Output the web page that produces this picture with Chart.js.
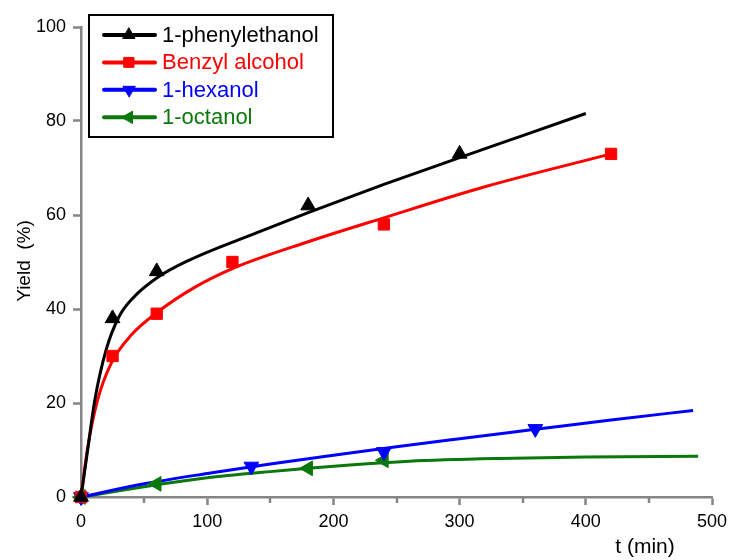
<!DOCTYPE html>
<html>
<head>
<meta charset="utf-8">
<script src="https://cdn.jsdelivr.net/npm/chart.js@4/dist/chart.umd.min.js"></script>
<style>
	html, body { margin: 0; padding: 0; background: #fff; }
	#wrap { width: 734px; height: 560px; }
</style>
</head>
<body>
<div id="wrap"><canvas id="yieldChart" width="734" height="560"></canvas></div>
<script>
// measured points
const phenylT = [0, 25, 60, 180, 300];
const phenylY = [0, 38, 48, 62, 73];
const benzylT = [0, 25, 60, 120, 240, 420];
const benzylY = [0, 30, 39, 50, 58, 73];
const hexanolT = [0, 135, 240, 360];
const hexanolY = [0, 6.5, 9.6, 14.5];
const octanolT = [0, 60, 180, 240];
const octanolY = [0, 2.8, 6.1, 7.8];

// fitted curves
const phenylFitT = [0, 5, 11, 20, 30, 41, 60, 85, 139, 180, 240, 300, 350, 400];
const phenylFitY = [0, 9.5, 20.7, 31.4, 38.3, 42.3, 46.6, 50.3, 56.2, 60.5, 66.5, 72.2, 76.9, 81.6];
const benzylFitT = [0, 5, 13, 24, 40, 60, 90, 120, 180, 240, 320, 420];
const benzylFitY = [0, 10, 20.5, 28.5, 34.5, 39.2, 44.6, 48.6, 54.3, 59.4, 66.0, 73];
const hexanolFitT = [0, 50, 100, 150, 200, 250, 300, 360, 420, 485];
const hexanolFitY = [0, 2.8, 5.0, 7.0, 8.9, 10.7, 12.4, 14.4, 16.4, 18.4];
const octanolFitT = [0, 30, 60, 94, 150, 213, 260, 332, 400, 489];
const octanolFitY = [0, 1.3, 2.6, 3.9, 5.4, 6.8, 7.6, 8.2, 8.5, 8.65];

const seriesNames = ["1-phenylethanol", "Benzyl alcohol", "1-hexanol", "1-octanol"];
const seriesColors = ["#000000", "#ff0000", "#0000ff", "#0a780a"];
const markerStyles = ["triangle", "rect", "triangle", "triangle"];
const markerRotations = [0, 0, 180, -90];

const xTicks = [0, 100, 200, 300, 400, 500];
const yTicks = [0, 20, 40, 60, 80, 100];

const axisGray = "#858585";
const font = "Liberation Sans, Arial, sans-serif";

function toPoints(xs, ys) {
	return xs.map((x, i) => ({ x: x, y: ys[i] }));
}

const measured = [
	toPoints(phenylT, phenylY),
	toPoints(benzylT, benzylY),
	toPoints(hexanolT, hexanolY),
	toPoints(octanolT, octanolY),
];
const fits = [
	toPoints(phenylFitT, phenylFitY),
	toPoints(benzylFitT, benzylFitY),
	toPoints(hexanolFitT, hexanolFitY),
	toPoints(octanolFitT, octanolFitY),
];

const datasets = [];
fits.forEach((pts, i) => {
	datasets.push({
		label: seriesNames[i] + " fit",
		data: pts,
		showLine: true,
		borderColor: seriesColors[i],
		borderWidth: 3,
		pointRadius: 0,
		cubicInterpolationMode: "monotone",
		clip: false,
		order: 1,
	});
});
measured.forEach((pts, i) => {
	datasets.push({
		label: seriesNames[i],
		data: pts,
		showLine: false,
		pointStyle: markerStyles[i],
		rotation: markerRotations[i],
		pointRadius: markerStyles[i] === "rect" ? 8 : 8.5,
		backgroundColor: seriesColors[i],
		borderColor: seriesColors[i],
		borderWidth: 1,
		clip: false,
		order: 0,
	});
});

// legend box, axis titles and minor x ticks
const extras = {
	id: "extras",
	afterDraw(chart) {
		const ctx = chart.ctx;
		const xs = chart.scales.x;
		const bottom = chart.chartArea.bottom;

		ctx.save();
		ctx.strokeStyle = axisGray;
		ctx.lineWidth = 2.5;
		for (let v = 50; v < 500; v += 100) {
			const px = Math.round(xs.getPixelForValue(v));
			ctx.beginPath();
			ctx.moveTo(px, bottom);
			ctx.lineTo(px, bottom + 6);
			ctx.stroke();
		}

		ctx.fillStyle = "#000";
		ctx.font = "21px " + font;
		ctx.textAlign = "center";
		ctx.textBaseline = "middle";
		ctx.fillText("t (min)", 645, 547);

		ctx.save();
		ctx.translate(25, 261);
		ctx.rotate(-Math.PI / 2);
		ctx.font = "19px " + font;
		ctx.fillText("Yield  (%)", 0, 0);
		ctx.restore();

		ctx.fillStyle = "#fff";
		ctx.fillRect(89, 15, 244, 122);
		ctx.strokeStyle = "#000";
		ctx.lineWidth = 2;
		ctx.strokeRect(89, 15, 244, 122);

		ctx.font = "22px " + font;
		ctx.textAlign = "left";
		seriesNames.forEach((name, i) => {
			const y = 35 + i * 27.4;
			ctx.strokeStyle = seriesColors[i];
			ctx.fillStyle = seriesColors[i];
			ctx.lineWidth = 4;
			ctx.lineCap = "round";
			ctx.beginPath();
			ctx.moveTo(104, y);
			ctx.lineTo(155, y);
			ctx.stroke();
			ctx.lineWidth = 1;
			Chart.helpers.drawPoint(ctx, {
				pointStyle: markerStyles[i],
				rotation: markerRotations[i],
				radius: 7,
				borderWidth: 1,
			}, 129, y);
			ctx.fillStyle = seriesColors[i];
			ctx.fillText(name, 162, y + 1);
		});
		ctx.restore();
	},
};

const axisGrid = {
	drawOnChartArea: false,
	drawTicks: true,
	tickLength: 8,
	tickWidth: 2.5,
};

new Chart(document.getElementById("yieldChart"), {
	type: "scatter",
	data: { datasets: datasets },
	options: {
		responsive: false,
		animation: false,
		layout: { padding: { left: 0, top: 27, right: 22, bottom: 0 } },
		plugins: { legend: { display: false }, tooltip: { enabled: false } },
		scales: {
			x: {
				type: "linear",
				min: 0,
				max: 500,
				afterFit(scale) { scale.height = 63; },
				border: { color: axisGray, width: 2.5 },
				grid: Object.assign({}, axisGrid, {
					tickColor: (c) => (c.tick && xTicks.includes(c.tick.value) ? axisGray : "rgba(0,0,0,0)"),
				}),
				ticks: {
					stepSize: 50,
					autoSkip: false,
					maxRotation: 0,
					padding: 6,
					color: "#000",
					font: { family: font, size: 18 },
					callback: (v) => (xTicks.includes(v) ? String(v) : ""),
				},
			},
			y: {
				type: "linear",
				min: 0,
				max: 100,
				afterFit(scale) { scale.width = 81; },
				border: { color: axisGray, width: 2.5 },
				grid: Object.assign({}, axisGrid, { tickColor: axisGray }),
				ticks: {
					stepSize: 20,
					padding: 7,
					color: "#000",
					font: { family: font, size: 18 },
					callback: (v) => (yTicks.includes(v) ? String(v) : ""),
				},
			},
		},
	},
	plugins: [extras],
});
</script>
</body>
</html>
